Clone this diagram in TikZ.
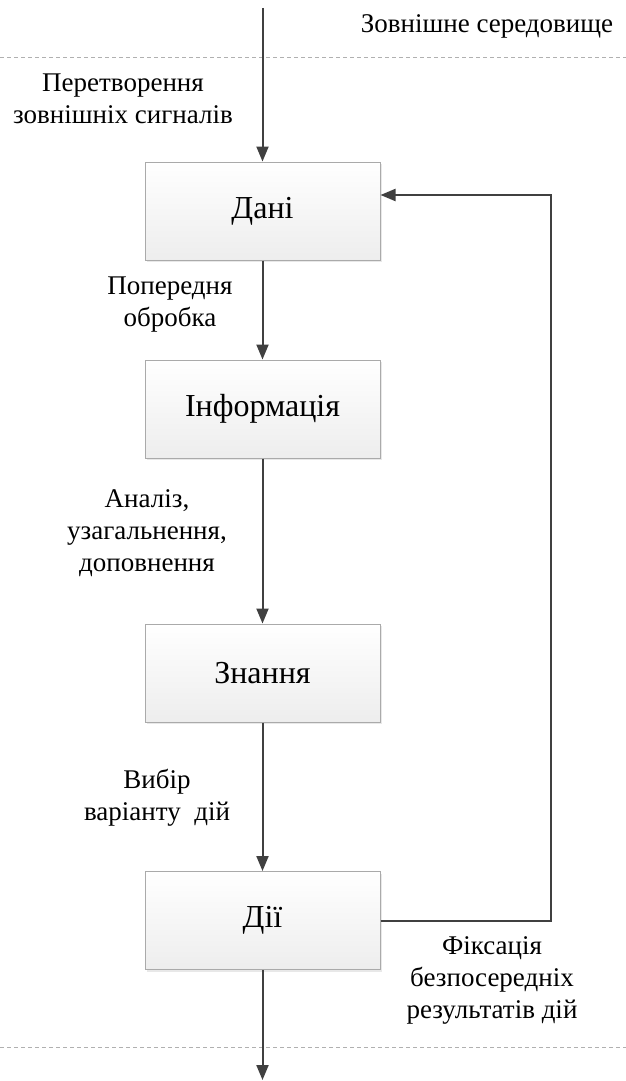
\documentclass[tikz,border=0pt]{standalone}
\usepackage{fontspec}
\setmainfont{Liberation Serif}
\usetikzlibrary{arrows.meta,shadows,calc}
\definecolor{linec}{HTML}{404040}
\definecolor{boxline}{HTML}{AAAAAA}
\definecolor{dashc}{HTML}{B0B0B0}
\begin{document}
\begin{tikzpicture}[x=1pt,y=-1pt,
  stagebox/.style={rectangle, draw=boxline, line width=1pt, top color=white, bottom color=black!7,
    minimum width=235pt, minimum height=98pt, inner sep=0pt,
    font=\fontsize{32}{36}\selectfont,
    drop shadow={shadow xshift=2pt, shadow yshift=-2pt, opacity=0.15, fill=black!60}},
  lbl/.style={align=center, inner sep=0pt, font=\fontsize{27}{32}\selectfont},
  arr/.style={draw=linec, line width=2pt, -{Triangle[length=15pt,width=12pt]}},
  sep/.style={draw=dashc, line width=1pt, dash pattern=on 4pt off 3pt}]
\useasboundingbox (0,0) rectangle (626,1081);
\fill[white] (0,0) rectangle (626,1081);
% separators
\coordinate (sl1) at (0,58); \coordinate (sr1) at (626,58);
\coordinate (sl2) at (0,1047); \coordinate (sr2) at (626,1047);
\draw[sep] (sl1) -- (sr1);
\draw[sep] (sl2) -- (sr2);
% boxes
\node[stagebox] (d1) at (262.5,211) {Дані};
\node[stagebox] (d2) at (262.5,409) {Інформація};
\node[stagebox] (d3) at (262.5,673) {Знання};
\node[stagebox] (d4) at (262.5,920.5) {Дії};
% labels
\node[lbl, anchor=base] (env) at (487,33) {Зовнішне середовище};
\node[lbl] (l1) at (123,98.5) {Перетворення\\зовнішніх сигналів};
\node[lbl] (l2) at (170,304.5) {Попередня\\обробка};
\node[lbl] (l3) at (147,533) {Аналіз,\\узагальнення,\\доповнення};
\node[lbl] (l4) at (157,798) {Вибір\\варіанту~ дій};
\node[lbl] (l5) at (492,980) {Фіксація\\безпосередніх\\результатів дій};
% connectors
\coordinate (top) at (262.5,8);
\coordinate (bot) at (262.5,1080);
\coordinate (fb) at (551,195);
\draw[arr] (top) -- (d1.north);
\draw[arr] (d1.south) -- (d2.north);
\draw[arr] (d2.south) -- (d3.north);
\draw[arr] (d3.south) -- (d4.north);
\draw[arr] (d4.south) -- (bot);
\draw[arr] (d4.east) -| (fb) -- (fb -| d1.east);
\end{tikzpicture}
\end{document}
